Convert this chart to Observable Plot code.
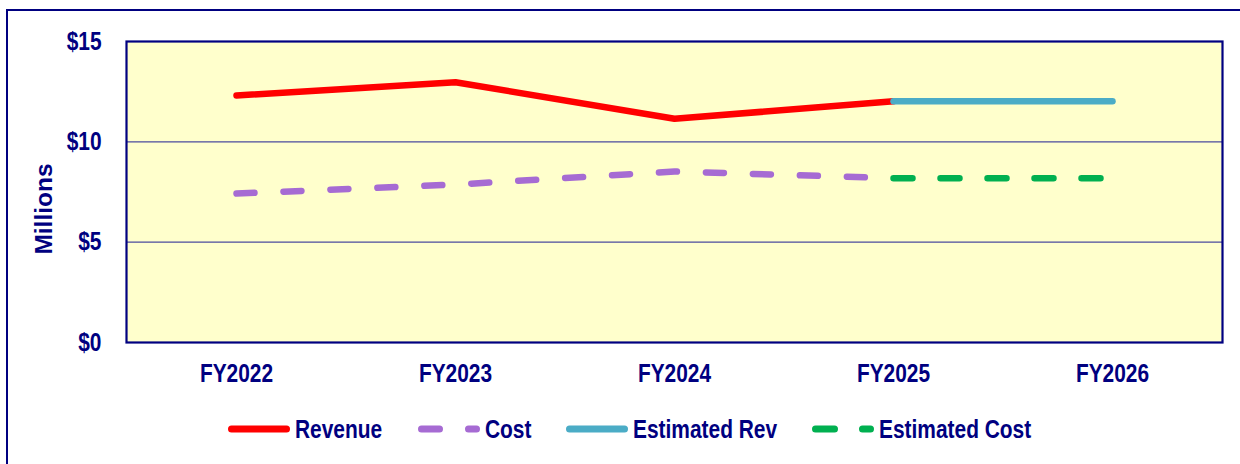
<!DOCTYPE html>
<html>
<head>
<meta charset="utf-8">
<script src="https://cdn.jsdelivr.net/npm/d3@7"></script>
<script src="https://cdn.jsdelivr.net/npm/@observablehq/plot@0.6"></script>
<style>
  html, body { margin: 0; padding: 0; background: #ffffff; }
  body { width: 1240px; height: 464px; overflow: hidden; position: relative;
         font-family: "Liberation Sans", Arial, sans-serif;
         font-weight: bold; color: #000080; }
  #outer { position: absolute; left: 6px; top: 9px; width: 1300px; height: 600px;
           border: 2px solid #000080; box-sizing: border-box; }
  #chart { position: absolute; left: 0; top: 0; }
  #legend { position: absolute; left: 228px; top: 414px; height: 30px; display: flex;
            align-items: center; font-size: 25.5px; line-height: 30px; white-space: nowrap; }
  .item { display: flex; align-items: center; }
  .item svg { margin-right: 5px; flex: none; }
  .item span { display: inline-block; transform: scaleX(0.82); transform-origin: 0 50%; }
</style>
</head>
<body>
<div id="outer"></div>
<div id="chart"></div>
<div id="legend"></div>
<script>
const categories = ["FY2022", "FY2023", "FY2024", "FY2025", "FY2026"];
const revenue = [12.31, 12.97, 11.15, 12.02];          // FY2022–FY2025
const cost = [7.42, 7.87, 8.52, 8.19];                 // FY2022–FY2025
const estRevCats = ["FY2025", "FY2026"];
const estRev = [12.02, 12.02];
const estCostCats = ["FY2025", "FY2026"];
const estCost = [8.19, 8.19];
const yTicks = [0, 5, 10, 15];
const seriesNames = ["Revenue", "Cost", "Estimated Rev", "Estimated Cost"];
const seriesColors = ["#FF0000", "#A66BD3", "#4BACC6", "#00B050"];
const seriesDash = [null, "18,29", null, "19,28"];

const navy = "#000080";
const fontFam = '"Liberation Sans", Arial, sans-serif';
const condense = 0.82;

const revData = revenue.map((v, i) => ({x: categories[i], y: v}));
const costData = cost.map((v, i) => ({x: categories[i], y: v}));
const estRevData = estRev.map((v, i) => ({x: estRevCats[i], y: v}));
const estCostData = estCost.map((v, i) => ({x: estCostCats[i], y: v}));

const lineOpts = (i) => ({
  x: "x", y: "y", stroke: seriesColors[i], strokeWidth: 6.5,
  strokeLinecap: "round", strokeLinejoin: "round",
  ...(seriesDash[i] ? {strokeDasharray: seriesDash[i]} : {})
});

const chart = Plot.plot({
  width: 1240,
  height: 395,
  marginLeft: 126,
  marginRight: 18,
  marginTop: 41,
  marginBottom: 53,
  x: {type: "point", domain: categories, padding: 0.5, label: null},
  y: {domain: [0, 15], label: null},
  style: {fontFamily: fontFam, fontWeight: "bold", fontSize: "25.5px", color: navy, background: "transparent", overflow: "visible"},
  marks: [
    Plot.frame({fill: "#FFFFCC"}),
    Plot.gridY(yTicks.filter(t => t > 0 && t < 15), {stroke: "#4B4B9E", strokeOpacity: 1, strokeWidth: 1.3}),
    Plot.line(revData, lineOpts(0)),
    Plot.line(costData, lineOpts(1)),
    Plot.line(estRevData, lineOpts(2)),
    Plot.line(estCostData, lineOpts(3)),
    Plot.frame({stroke: navy, strokeWidth: 2.2}),
    Plot.axisX({tickSize: 0, tickPadding: 21, fill: navy, fontSize: 25.5}),
    Plot.axisY({ticks: yTicks, tickSize: 0, tickPadding: 25, tickFormat: d => "$" + d, fill: navy, fontSize: 25.5, label: null}),
    Plot.text(["Millions"], {frameAnchor: "left", textAnchor: "middle", dx: -82, dy: 17, rotate: -90, text: d => d,
      fill: navy, fontSize: 24.5, fontWeight: "bold", fontFamily: fontFam})
  ]
});
document.getElementById("chart").appendChild(chart);

// Condense axis tick labels horizontally around their anchor (narrow bold face look)
d3.select(chart).selectAll("g[aria-label='x-axis tick label'] text, g[aria-label='y-axis tick label'] text").each(function() {
  const t = d3.select(this);
  let x = parseFloat(t.attr("x"));
  if (!isFinite(x)) x = 0;
  const tr = t.attr("transform") || "";
  t.attr("transform", `${tr} translate(${x},0) scale(${condense},1) translate(${-x},0)`);
});

// Legend
const legend = d3.select("#legend");
const gaps = [36, 34, 35, 0];
seriesNames.forEach((name, i) => {
  const item = legend.append("div").attr("class", "item");
  const svg = item.append("svg").attr("width", 62).attr("height", 12);
  svg.append("line")
    .attr("x1", 3.5).attr("x2", 58.5).attr("y1", 6).attr("y2", 6)
    .attr("stroke", seriesColors[i]).attr("stroke-width", 7)
    .attr("stroke-linecap", "round")
    .attr("stroke-dasharray", seriesDash[i]);
  const span = item.append("span").text(name);
  const w = span.node().offsetWidth;
  span.style("margin-right", (gaps[i] - w * (1 - condense)) + "px");
});
</script>
</body>
</html>
